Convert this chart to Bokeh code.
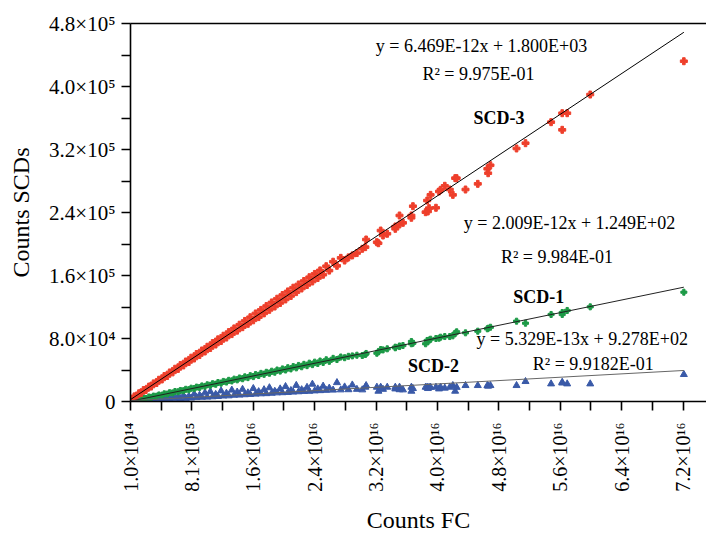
import math
from bokeh.plotting import figure
from bokeh.models import Range1d, FixedTicker, CustomJSTickFormatter, Label, LinearAxis
from bokeh.embed import file_html
from bokeh.resources import INLINE

# ---------------- data ----------------
# Counts FC, in units of 1e16
fc_e16 = [
    0.01, 0.03, 0.06, 0.09, 0.12, 0.15, 0.18, 0.21, 0.25, 0.28,
    0.31, 0.35, 0.38, 0.42, 0.45, 0.49, 0.52, 0.56, 0.59, 0.63,
    0.66, 0.70, 0.73, 0.77, 0.80, 0.84, 0.87, 0.91, 0.94, 0.98,
    1.01, 1.05, 1.08, 1.12, 1.15, 1.19, 1.22, 1.26, 1.29, 1.33,
    1.36, 1.40, 1.43, 1.47, 1.50, 1.54, 1.57, 1.61, 1.64, 1.68,
    1.71, 1.75, 1.78, 1.82, 1.85, 1.89, 1.92, 1.96, 1.99, 2.03,
    2.06, 2.10, 2.13, 2.17, 2.20, 2.24, 2.27, 2.31, 2.34, 2.38,
    2.41, 2.45, 2.48, 2.52, 2.56, 2.60, 2.65, 2.70, 2.75, 2.80,
    2.85, 2.90, 2.96,
    3.03, 3.07, 3.08, 3.22, 3.24, 3.27, 3.30, 3.355, 3.46, 3.46,
    3.515, 3.515, 3.56, 3.67, 3.67, 3.69, 3.855, 3.875, 3.885, 3.90,
    3.92, 3.99, 4.03, 4.05, 4.105, 4.17, 4.21, 4.24, 4.26, 4.375,
    4.535, 4.66, 4.67, 4.70, 5.04, 5.157, 5.49, 5.635, 5.635, 5.70,
    6.00, 7.22,
]

# Counts SCDs, in thousands
scd3_k = [
    2.8, 3.2, 6.5, 7.0, 10.4, 10.9, 14.5, 14.6, 18.9, 19.0,
    23.0, 23.5, 27.6, 28.0, 32.3, 32.4, 36.9, 37.0, 41.6, 41.4,
    46.2, 45.8, 50.8, 50.2, 55.6, 54.6, 60.3, 59.0, 64.8, 63.5,
    69.5, 67.9, 74.2, 72.4, 78.9, 76.8, 83.5, 81.2, 88.1, 85.6,
    92.8, 90.0, 97.5, 94.4, 102.3, 98.6, 107.0, 103.1, 111.8, 107.2,
    116.3, 111.9, 121.2, 116.4, 125.8, 120.6, 130.5, 125.1, 135.2, 129.6,
    139.8, 134.0, 144.5, 138.9, 148.6, 143.5, 153.0, 147.9, 157.8, 152.4,
    162.0, 156.8, 166.5, 161.0, 171.8, 166.2, 177.5, 172.3, 182.4, 179.0,
    183.0, 185.5, 188.5,
    193.9, 196.0, 205.7, 202.3, 201.0, 217.1, 210.8, 213.0, 222.2, 219.3,
    236.2, 224.8, 226.9, 236.2, 233.3, 248.0, 240.4, 255.2, 241.3, 245.5,
    262.4, 246.0, 266.7, 268.8, 273.9, 269.2, 262.4, 283.6, 283.6, 269.2,
    276.4, 295.5, 289.9, 300.0, 321.3, 328.0, 354.7, 366.1, 345.0, 366.1,
    389.8, 432.1,
]

scd1_k = [
    0.6, 0.5, 1.8, 1.5, 3.0, 2.8, 4.3, 3.9, 5.7, 5.3,
    6.9, 6.8, 8.3, 8.1, 9.8, 9.5, 11.2, 10.9, 12.7, 12.3,
    14.0, 13.7, 15.5, 15.0, 16.9, 16.4, 18.3, 17.8, 19.8, 19.2,
    21.2, 20.6, 22.6, 21.9, 24.1, 23.3, 25.5, 24.7, 26.9, 26.1,
    28.4, 27.5, 29.9, 28.9, 31.3, 30.3, 32.8, 31.6, 34.2, 33.0,
    35.7, 34.5, 37.1, 35.9, 38.5, 37.2, 40.0, 38.6, 41.4, 40.0,
    42.9, 41.4, 44.3, 42.7, 45.8, 44.1, 47.2, 45.5, 48.7, 46.8,
    50.0, 48.3, 51.4, 49.6, 53.0, 51.0, 54.8, 53.3, 56.5, 55.6,
    57.4, 57.9, 58.8,
    58.4, 59.7, 61.0, 61.3, 63.0, 66.0, 65.5, 66.9, 68.2, 69.0,
    69.8, 70.5, 71.1, 73.3, 76.2, 74.0, 73.3, 77.5, 76.0, 78.0,
    79.1, 80.0, 80.4, 81.65, 82.5, 82.5, 83.4, 86.7, 88.5, 87.2,
    89.3, 92.3, 93.0, 94.3, 102.0, 99.4, 110.5, 113.0, 110.5, 115.6,
    120.2, 138.8,
]

scd2_k = [
    0.5, 1.2, 0.8, 1.5, 1.0, 2.0, 1.3, 2.4, 1.6, 2.8,
    2.0, 3.2, 2.2, 3.6, 2.6, 4.5, 3.0, 5.2, 3.4, 6.0,
    3.8, 7.5, 4.0, 6.5, 4.4, 9.5, 5.0, 8.0, 5.4, 11.0,
    5.6, 12.5, 6.0, 9.0, 6.4, 13.5, 7.0, 10.5, 7.2, 14.5,
    8.0, 12.0, 8.2, 15.5, 8.6, 11.0, 9.0, 16.5, 9.4, 12.5,
    9.8, 15.0, 10.0, 17.5, 10.5, 13.0, 11.0, 16.0, 11.2, 19.0,
    11.5, 14.0, 12.0, 20.5, 12.4, 15.0, 12.8, 18.0, 13.0, 22.0,
    13.5, 16.0, 13.8, 19.5, 14.2, 17.0, 14.5, 24.0, 14.8, 18.5,
    15.0, 21.0, 15.5,
    14.8, 18.2, 20.3, 18.2, 13.1, 18.2, 15.5, 18.2, 18.2, 16.0,
    18.2, 15.0, 14.8, 18.2, 13.1, 16.5, 18.2, 18.2, 16.5, 18.0,
    18.2, 18.2, 16.0, 18.2, 17.0, 18.2, 20.3, 13.1, 18.0, 20.3,
    20.3, 20.3, 19.5, 20.3, 20.3, 25.4, 22.4, 24.5, 23.5, 22.4,
    22.4, 34.3,
]

# linear fits (slope, intercept) as printed on the chart
fit_scd3 = (6.469e-12, 1.800e03)
fit_scd1 = (2.009e-12, 1.249e02)
fit_scd2 = (5.329e-13, 9.278e02)

x_tick_e16 = [0.01, 0.81, 1.61, 2.41, 3.21, 4.01, 4.81, 5.61, 6.41, 7.21]
x_minor_e16 = [0.41, 1.21, 2.01, 2.81, 3.61, 4.41, 5.21, 6.01, 6.81]
x_tick_labels = ["1.0×10¹⁴", "8.1×10¹⁵", "1.6×10¹⁶", "2.4×10¹⁶", "3.2×10¹⁶",
                 "4.0×10¹⁶", "4.8×10¹⁶", "5.6×10¹⁶", "6.4×10¹⁶", "7.2×10¹⁶"]
y_ticks = [0, 80000, 160000, 240000, 320000, 400000, 480000]
y_minor = [40000, 120000, 200000, 280000, 360000, 440000]
y_tick_labels = ["0", "8.0×10⁴", "1.6×10⁵", "2.4×10⁵", "3.2×10⁵", "4.0×10⁵", "4.8×10⁵"]

# ---------------- derived ----------------
fc = [v * 1e16 for v in fc_e16]
scd3 = [v * 1e3 for v in scd3_k]
scd1 = [v * 1e3 for v in scd1_k]
scd2 = [v * 1e3 for v in scd2_k]
x_ticks = [v * 1e16 for v in x_tick_e16]
x_minor = [v * 1e16 for v in x_minor_e16]

FONT = "Liberation Serif"
RED = "#ee3f2b"
GREEN = "#1d9a47"
BLUE = "#3a5aa8"

p = figure(width=706, height=537, output_backend="svg", toolbar_location=None,
           x_range=Range1d(1e14, 7.515e16), y_range=Range1d(0, 480000),
           min_border_left=130, min_border_right=0, min_border_top=23,
           min_border_bottom=136)
p.outline_line_color = None
p.xgrid.grid_line_color = None
p.ygrid.grid_line_color = None
p.background_fill_color = "white"
p.border_fill_color = "white"

# points
p.scatter(fc, scd2, marker="triangle", size=7, color=BLUE)
p.scatter(fc, scd1, marker="plus", size=6, color=GREEN)
p.scatter(fc, scd3, marker="plus", size=7, color=RED)

# fit lines
xmin, xmax = min(fc), max(fc)
for (m, b), col in ((fit_scd3, "black"), (fit_scd1, "#222222"), (fit_scd2, "#666666")):
    p.line([xmin, xmax], [m * xmin + b, m * xmax + b], line_color=col, line_width=1)

# axes styling
def style_axis(ax, size):
    ax.axis_line_color = "black"
    ax.axis_line_width = 1.6
    ax.major_tick_line_color = "black"
    ax.major_tick_line_width = 1.6
    ax.minor_tick_line_color = "black"
    ax.minor_tick_line_width = 1.6
    ax.major_tick_in = 0
    ax.major_tick_out = 9
    ax.minor_tick_in = 0
    ax.minor_tick_out = 9
    ax.major_label_text_font = FONT
    ax.major_label_text_font_size = size
    ax.major_label_text_color = "black"
    ax.axis_label_text_font = FONT
    ax.axis_label_text_font_size = "24px"
    ax.axis_label_text_font_style = "normal"
    ax.axis_label_text_color = "black"

xa = p.xaxis[0]
xa.ticker = FixedTicker(ticks=x_ticks, minor_ticks=x_minor)
xa.formatter = CustomJSTickFormatter(args=dict(vals=x_ticks, labels=x_tick_labels), code="""
    for (let i = 0; i < vals.length; i++) { if (Math.abs(vals[i] - tick) < 1e13) return labels[i]; }
    return "";
""")
style_axis(xa, "20px")
xa.major_label_orientation = math.pi / 2
xa.major_label_standoff = 12
xa.axis_label = "Counts FC"
xa.axis_label_standoff = 12

ya = p.yaxis[0]
ya.ticker = FixedTicker(ticks=y_ticks, minor_ticks=y_minor)
ya.formatter = CustomJSTickFormatter(args=dict(vals=y_ticks, labels=y_tick_labels), code="""
    for (let i = 0; i < vals.length; i++) { if (Math.abs(vals[i] - tick) < 1) return labels[i]; }
    return "";
""")
style_axis(ya, "21px")
ya.major_label_standoff = 6
ya.axis_label = "Counts SCDs"
ya.axis_label_standoff = 12

top = LinearAxis(ticker=FixedTicker(ticks=[]), major_label_text_font_size="0px",
                 major_tick_line_color=None, minor_tick_line_color=None,
                 axis_line_color="black", axis_line_width=1.6)
p.add_layout(top, "above")

def note(x, y, text, bold=False, align="center"):
    p.add_layout(Label(x=x, y=y, text=text, text_align=align, text_baseline="middle",
                       text_font=FONT, text_font_size="18px", text_color="black",
                       text_font_style="bold" if bold else "normal"))

note(4.583e16, 450800, "y = 6.469E-12x + 1.800E+03")
note(4.544e16, 416500, "R² = 9.975E-01")
note(4.81e16, 360600, "SCD-3", bold=True)
note(5.73e16, 227300, "y = 2.009E-12x + 1.249E+02")
note(5.567e16, 182900, "R² = 9.984E-01")
note(5.33e16, 132100, "SCD-1", bold=True)
note(4.518e16, 80000, "y = 5.329E-13x + 9.278E+02", align="left")
note(6.04e16, 48250, "R² = 9.9182E-01")
note(3.958e16, 45700, "SCD-2", bold=True)

open("out.html", "w").write(file_html(p, INLINE))
